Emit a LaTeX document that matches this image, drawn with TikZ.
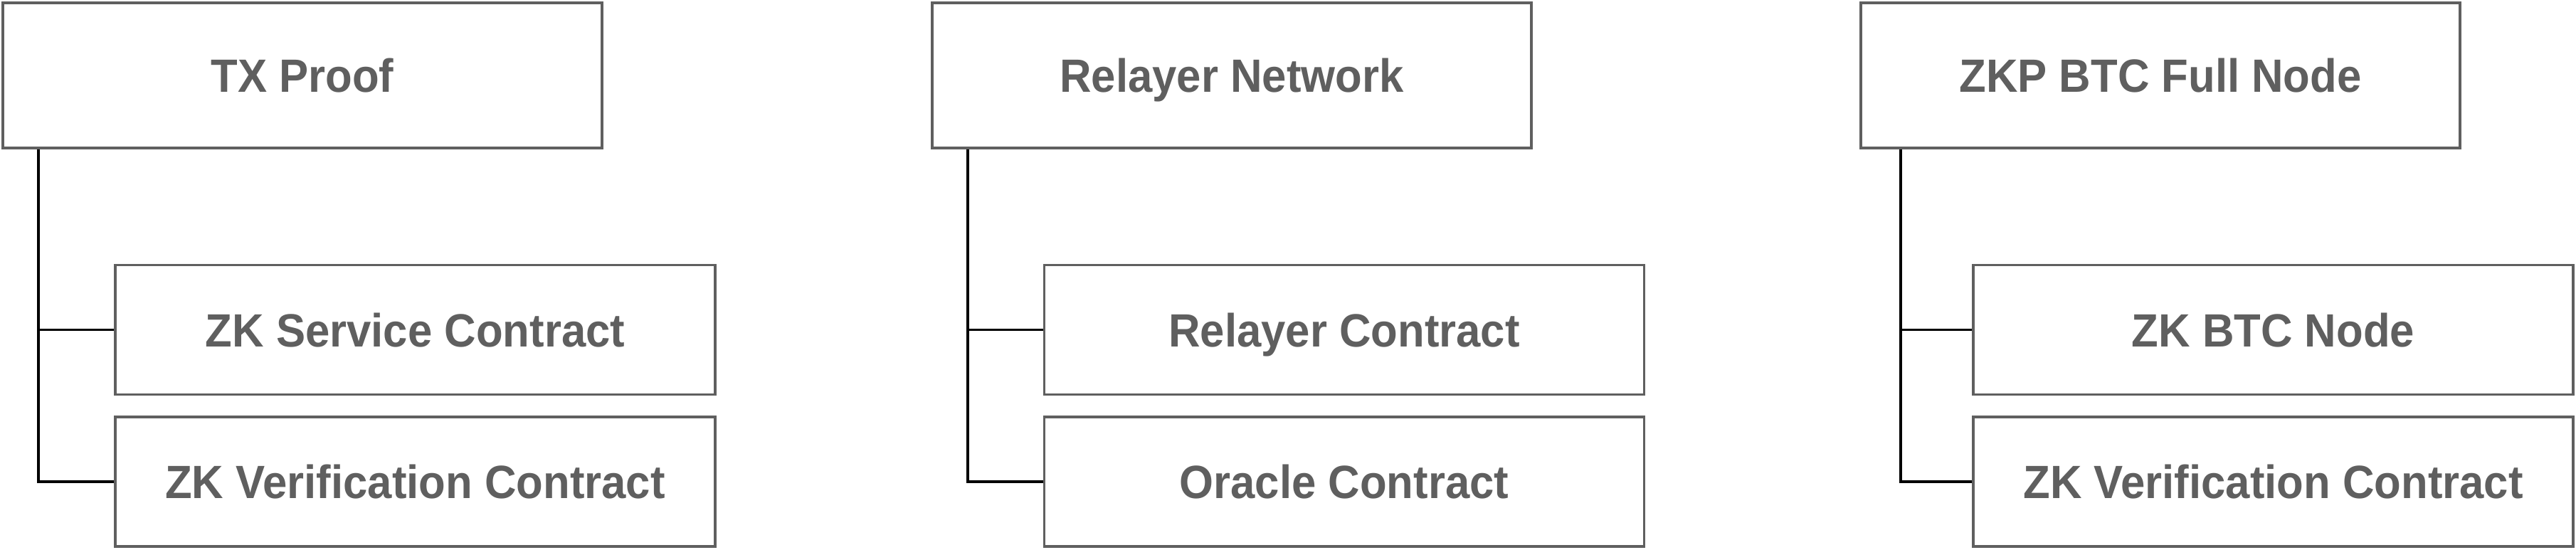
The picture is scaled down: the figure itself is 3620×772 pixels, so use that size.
\documentclass[tikz,border=0pt]{standalone}
\usepackage{fontspec}
\newfontfamily\boxfont{Liberation Sans}[FakeStretch=0.94]
\definecolor{boxgray}{HTML}{5F5F5F}
\tikzset{
  box/.style={draw=boxgray, line width=3.6pt, rectangle, inner sep=0pt,
    text height=47pt, text depth=0pt,
    text=boxgray, font=\boxfont\bfseries\fontsize{65.6}{70}\selectfont},
  topbox/.style={box, minimum width=842pt, minimum height=204pt},
  childbox/.style={box, minimum width=843pt, minimum height=182pt},
  conn/.style={draw=black, line width=3.8pt}
}
\begin{document}
\begin{tikzpicture}[x=1pt,y=-1pt]
\useasboundingbox (0,0) rectangle (3620,772);
% left group
\node[topbox]   (tp)  at (425,106)    {TX Proof};
\node[childbox] (tp1) at (583.5,463.5) {ZK Service Contract};
\node[childbox] (tp2) at (583.5,677)   {ZK Verification Contract};
\coordinate (tpj) at ([xshift=52pt]tp.south west);
\draw[conn] (tpj) |- (tp2.west);
\draw[conn] (tpj |- tp1.west) -- (tp1.west);
% middle group
\node[topbox]   (rn)  at (1731,106)    {Relayer Network};
\node[childbox] (rn1) at (1889,463.5)  {Relayer Contract};
\node[childbox] (rn2) at (1889,677)    {Oracle Contract};
\coordinate (rnj) at ([xshift=52pt]rn.south west);
\draw[conn] (rnj) |- (rn2.west);
\draw[conn] (rnj |- rn1.west) -- (rn1.west);
% right group
\node[topbox]   (fn)  at (3036,106)    {ZKP BTC Full Node};
\node[childbox] (fn1) at (3194.5,463.5) {ZK BTC Node};
\node[childbox] (fn2) at (3194.5,677)   {ZK Verification Contract};
\coordinate (fnj) at ([xshift=58pt]fn.south west);
\draw[conn] (fnj) |- (fn2.west);
\draw[conn] (fnj |- fn1.west) -- (fn1.west);
\end{tikzpicture}
\end{document}
